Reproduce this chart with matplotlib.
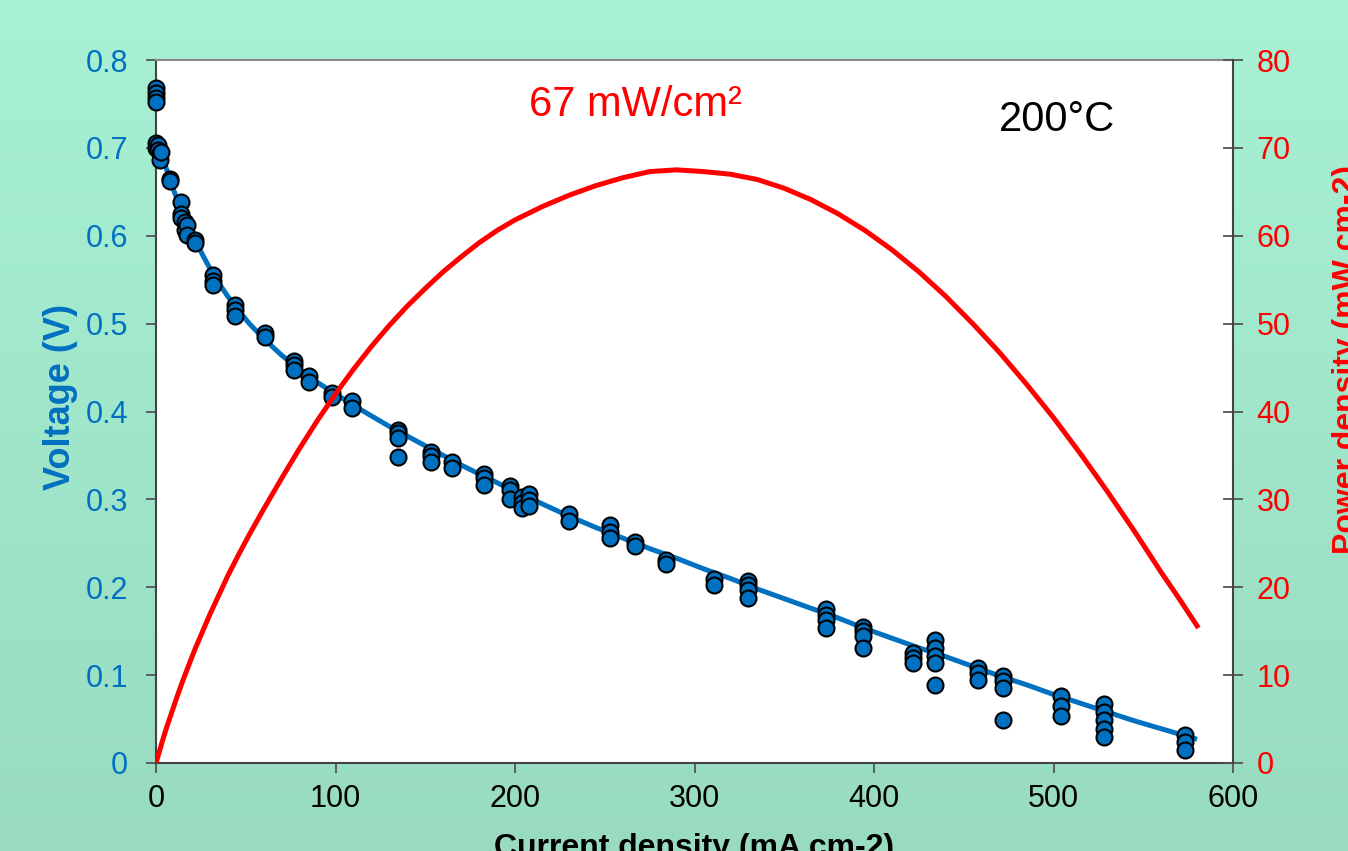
import numpy as np
import matplotlib
matplotlib.use('Agg')
import matplotlib.pyplot as plt

plt.rcParams['font.family'] = ['Liberation Sans', 'DejaVu Sans']

# measured points (current density mA cm-2, voltage V)
meas_i = [0, 0, 0, 0, 0, 0, 1, 1, 2, 2, 3,
          8, 8, 14, 14, 14, 16, 16, 17, 17, 22, 22,
          32, 32, 32, 44, 44, 44, 61, 61, 77, 77, 77, 85, 85, 98, 98,
          109, 109, 135, 135, 135, 135, 153, 153, 153, 165, 165,
          183, 183, 183, 197, 197, 197, 204, 204, 204, 208, 208, 208,
          230, 230, 253, 253, 253, 267, 267, 284, 284, 311, 311,
          330, 330, 330, 330, 373, 373, 373, 373, 394, 394, 394, 394,
          422, 422, 422, 434, 434, 434, 434, 434, 458, 458, 458,
          472, 472, 472, 472, 504, 504, 504, 528, 528, 528, 528, 528,
          573, 573, 573]
meas_v = [0.768, 0.762, 0.757, 0.752, 0.706, 0.700, 0.703, 0.698, 0.694, 0.686, 0.695,
          0.665, 0.662, 0.638, 0.625, 0.620, 0.616, 0.607, 0.612, 0.601, 0.595, 0.592,
          0.555, 0.548, 0.544, 0.521, 0.515, 0.509, 0.489, 0.485, 0.457, 0.453, 0.447, 0.440, 0.434, 0.421, 0.417,
          0.412, 0.404, 0.379, 0.376, 0.370, 0.348, 0.354, 0.349, 0.343, 0.343, 0.336,
          0.329, 0.324, 0.316, 0.315, 0.311, 0.300, 0.303, 0.296, 0.290, 0.306, 0.299, 0.292,
          0.283, 0.275, 0.271, 0.263, 0.256, 0.251, 0.247, 0.231, 0.226, 0.209, 0.203,
          0.207, 0.203, 0.197, 0.188, 0.175, 0.168, 0.163, 0.154, 0.155, 0.150, 0.145, 0.131,
          0.125, 0.119, 0.114, 0.140, 0.131, 0.122, 0.114, 0.089, 0.108, 0.102, 0.094,
          0.099, 0.093, 0.085, 0.049, 0.076, 0.065, 0.053, 0.067, 0.058, 0.049, 0.039, 0.030,
          0.032, 0.024, 0.015]

# fitted polarisation curve and power density
fit_i = [0.5, 2, 4, 6, 8, 10, 12, 15, 18, 22, 26, 30, 35, 40, 46, 52, 60, 70, 80, 90,
         100, 110, 120, 130, 140, 150, 160, 170, 180, 190, 200, 215, 230, 245, 260, 275,
         290, 305, 320, 335, 350, 365, 380, 395, 410, 425, 440, 455, 470, 485, 500, 515,
         530, 545, 560, 570, 580]
fit_v = [0.700, 0.695, 0.686, 0.675, 0.663, 0.651, 0.640, 0.625, 0.611, 0.594, 0.578,
         0.563, 0.546, 0.531, 0.515, 0.500, 0.483, 0.464, 0.448, 0.433,
         0.420, 0.407, 0.395, 0.383, 0.372, 0.361, 0.350, 0.339, 0.329, 0.319, 0.309,
         0.295, 0.281, 0.268, 0.256, 0.244, 0.233, 0.221, 0.210, 0.198, 0.187, 0.176,
         0.165, 0.153, 0.142, 0.131, 0.121, 0.110, 0.099, 0.089, 0.078, 0.068, 0.058,
         0.048, 0.039, 0.033, 0.027]
power = [0.35, 1.4, 2.8, 4.1, 5.3, 6.5, 7.7, 9.4, 11.0, 13.1, 15.0, 16.9, 19.1, 21.3,
         23.7, 26.0, 28.9, 32.4, 35.8, 39.0,
         42.0, 44.8, 47.4, 49.8, 52.0, 54.0, 55.9, 57.6, 59.2, 60.6, 61.8, 63.3, 64.6,
         65.7, 66.6, 67.3, 67.5, 67.3, 67.0, 66.4, 65.4, 64.1, 62.5, 60.6, 58.4, 55.9,
         53.1, 50.0, 46.7, 43.1, 39.3, 35.2, 30.9, 26.4, 21.7, 18.7, 15.6]

blue = '#0070C0'
red = '#FF0000'
W, H = 1348, 851

fig = plt.figure(figsize=(W / 100, H / 100), dpi=100)

# gradient background
bg = fig.add_axes([0, 0, 1, 1])
grad = np.linspace(0, 1, 256).reshape(-1, 1)
top = np.array([168, 241, 213]) / 255
bot = np.array([152, 219, 192]) / 255
img = top[None, None, :] * (1 - grad[:, :, None]) + bot[None, None, :] * grad[:, :, None]
bg.imshow(img, aspect='auto', extent=[0, 1, 0, 1])
bg.axis('off')

ax = fig.add_axes([156 / W, 88 / H, 1077 / W, 703 / H])
ax.set_facecolor('white')
ax.plot(fit_i, fit_v, color=blue, lw=3.6, zorder=2, solid_capstyle='butt')
ax.plot(meas_i, meas_v, 'o', color=blue, mec='black', mew=1.5, ms=11.5, zorder=3, clip_on=False)
ax.set_xlim(0, 600)
ax.set_ylim(0, 0.8)
ax.set_xticks(np.arange(0, 601, 100))
ax.set_yticks(np.arange(0, 0.81, 0.1))
ax.set_yticklabels(['0', '0.1', '0.2', '0.3', '0.4', '0.5', '0.6', '0.7', '0.8'])
ax.tick_params(axis='y', colors='#555555', labelcolor=blue, labelsize=22, length=7, width=1.3, pad=13)
ax.tick_params(axis='x', colors='#555555', labelcolor='black', labelsize=22, length=7, width=1.3, pad=8)
for s in ['left', 'bottom']:
    ax.spines[s].set_color('#444444')
    ax.spines[s].set_linewidth(1.5)
ax.spines['top'].set_color('#888888')
ax.spines['top'].set_linewidth(1.5)
ax.spines['right'].set_visible(False)

ax2 = ax.twinx()
ax2.plot(fit_i, power, color=red, lw=3.6)
ax2.set_ylim(0, 80)
ax2.set_yticks(np.arange(0, 81, 10))
ax2.tick_params(axis='y', direction='inout', colors='#555555', labelcolor=red, labelsize=22,
                length=14, width=1.3, pad=10)
ax2.spines['right'].set_color('#444444')
ax2.spines['right'].set_linewidth(1.5)
for s in ['left', 'top', 'bottom']:
    ax2.spines[s].set_visible(False)

fig.text(60 / W, 1 - 397 / H, 'Voltage (V)', rotation=90, ha='center', va='center',
         color=blue, fontsize=26, fontweight='bold')
fig.text(694 / W, 1 - 848 / H, 'Current density (mA cm-2)', ha='center', va='center',
         color='black', fontsize=23, fontweight='bold')
fig.text(1347 / W, 1 - 360 / H, 'Power density (mW cm-2)', rotation=90, ha='center', va='center',
         color=red, fontsize=23, fontweight='bold')
fig.text(635 / W, 1 - 105 / H, '67 mW/cm²', ha='center', va='center', color=red, fontsize=30)
fig.text(1057 / W, 1 - 120 / H, '200°C', ha='center', va='center', color='black', fontsize=30)

fig.savefig('out.png', dpi=100)
